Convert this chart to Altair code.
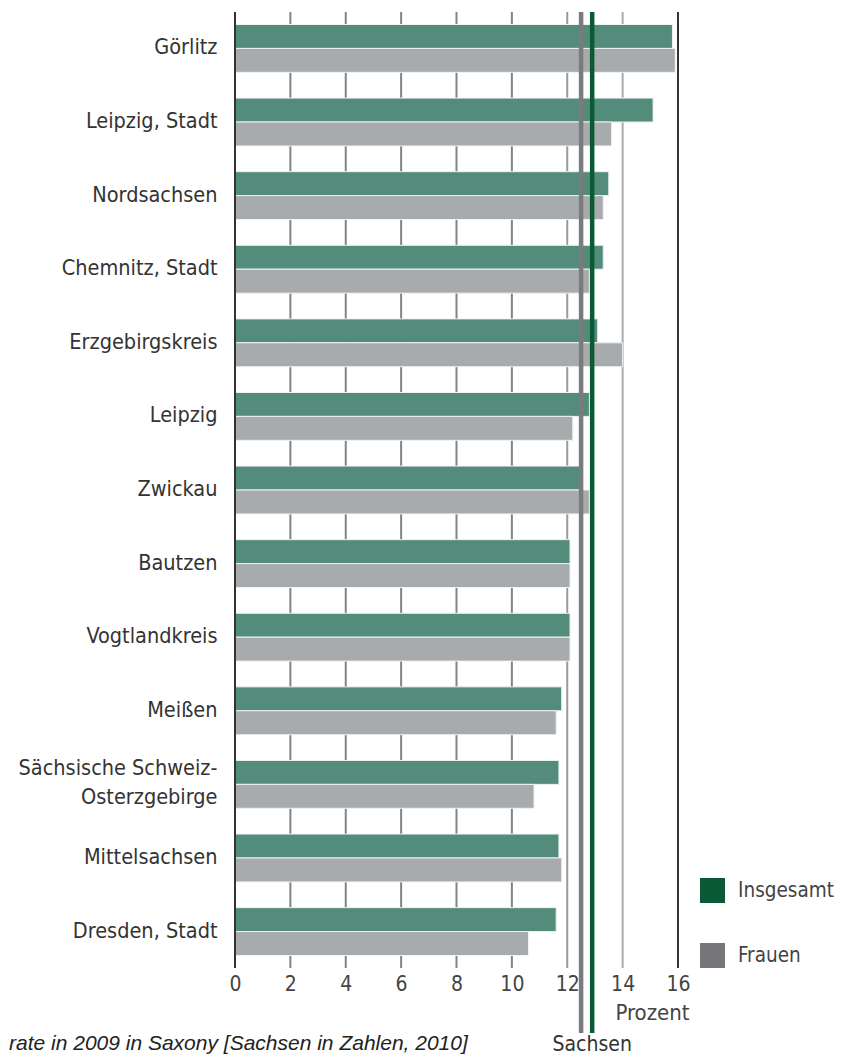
import altair as alt
import pandas as pd

# ---------------- data ----------------
regions = [
    "Görlitz", "Leipzig, Stadt", "Nordsachsen", "Chemnitz, Stadt",
    "Erzgebirgskreis", "Leipzig", "Zwickau", "Bautzen", "Vogtlandkreis",
    "Meißen", "Sächsische Schweiz-|Osterzgebirge", "Mittelsachsen",
    "Dresden, Stadt",
]
insgesamt = [15.8, 15.1, 13.5, 13.3, 13.1, 12.8, 12.5, 12.1, 12.1, 11.8, 11.7, 11.7, 11.6]
frauen = [15.9, 13.6, 13.3, 12.8, 14.0, 12.2, 12.8, 12.1, 12.1, 11.6, 10.8, 11.8, 10.6]
series_names = ["Insgesamt", "Frauen"]
sachsen_values = [12.9, 12.5]
x_ticks = [0, 2, 4, 6, 8, 10, 12, 14, 16]
grid_ticks = [2, 4, 6, 8, 10, 12, 14]
frame_ticks = [0, 16]
sachsen_label = "Sachsen"
axis_title = "Prozent"
caption = "rate in 2009 in Saxony [Sachsen in Zahlen, 2010]"

# ---------------- tables ----------------
bars_df = pd.DataFrame(
    [{"region": r, "series": series_names[0], "value": v} for r, v in zip(regions, insgesamt)]
    + [{"region": r, "series": series_names[1], "value": v} for r, v in zip(regions, frauen)]
)
sachsen_df = pd.DataFrame({"series": series_names, "value": sachsen_values})
grid_df = pd.DataFrame({"value": grid_ticks})
frame_df = pd.DataFrame({"value": frame_ticks})
caption_df = pd.DataFrame({"t": [caption]})
legend_df = pd.DataFrame({"series": series_names})

FONT = "'Liberation Sans Narrow', 'DejaVu Sans Condensed', 'Liberation Sans', sans-serif"

xscale = alt.Scale(domain=[0, 16], nice=False, zero=True)
xaxis = alt.Axis(
    values=x_ticks, domain=False, ticks=False, grid=False, format="d",
    labelFont=FONT, labelFontSize=21, labelColor="#444444", labelPadding=5,
    labelFlush=False, labelOverlap=False,
    title=axis_title, titleFont=FONT, titleFontSize=22, titleFontWeight="normal",
    titleColor="#444444", titleX=417, titleY=51, titleAlign="center",
    titleBaseline="alphabetic",
)


def X(field):
    return alt.X(field, type="quantitative", scale=xscale, axis=xaxis)


grid = alt.Chart(grid_df).mark_rule(strokeWidth=2).encode(
    x=X("value"),
    color=alt.when("datum.value >= 14").then(alt.value("#ababab"))
    .when("datum.value >= 12").then(alt.value("#9a9a9a"))
    .otherwise(alt.value("#838383")),
)

bars = alt.Chart(bars_df).mark_bar(stroke="#eef2f1", strokeWidth=1).encode(
    y=alt.Y(
        "region:N", sort=regions, title=None,
        scale=alt.Scale(paddingInner=0.35, paddingOuter=0.17),
        axis=alt.Axis(
            domain=False, ticks=False, labelFont=FONT, labelFontSize=21.5,
            labelColor="#333333", labelPadding=18, labelLimit=400,
            labelExpr="split(datum.label, '|')", labelLineHeight=29,
            labelOffset={"condition": {"test": "indexof(datum.value, '|') >= 0", "value": -15},
                         "value": 0},
        ),
    ),
    yOffset=alt.YOffset("series:N", sort=series_names,
                        scale=alt.Scale(paddingInner=0, paddingOuter=0)),
    x=X("value"),
    color=alt.Color("series:N", legend=None,
                    scale=alt.Scale(domain=series_names, range=["#548c7c", "#a8abad"])),
)

rules = alt.Chart(sachsen_df).mark_rule(strokeWidth=4.5).encode(
    x=X("value"),
    y=alt.value(0),
    y2=alt.value(1021),
    color=alt.Color("series:N", legend=None,
                    scale=alt.Scale(domain=series_names, range=["#0b5a36", "#7b7b7e"])),
)

frame = alt.Chart(frame_df).mark_rule(color="#333333", strokeWidth=2).encode(x=X("value"))

sachsen_text = alt.Chart(sachsen_df).transform_filter(
    alt.datum.series == series_names[0]
).mark_text(text=sachsen_label, font=FONT, fontSize=21, color="#333333",
            baseline="alphabetic", align="center").encode(
    x=X("value"),
    y=alt.value(1039),
)

caption_layer = alt.Chart(caption_df).mark_text(
    font="Liberation Sans", fontStyle="italic", fontSize=21, align="left",
    baseline="alphabetic", color="#222222",
).encode(text="t:N", x=alt.value(-226), y=alt.value(1038))

legend_layer = alt.Chart(legend_df).mark_square(opacity=0).encode(
    x=alt.value(0),
    y=alt.value(0),
    color=alt.Color(
        "series:N",
        scale=alt.Scale(domain=series_names, range=["#0b5a36", "#77777b"]),
        legend=alt.Legend(
            title=None, orient="none", legendX=465, legendY=866, padding=0,
            symbolType="square", symbolSize=625, symbolStrokeWidth=0,
            symbolOpacity=1, labelFont=FONT, labelFontSize=20.5,
            labelColor="#444444", labelOffset=13, rowPadding=40,
        ),
    ),
)

chart = (
    alt.layer(grid, bars, rules, frame, sachsen_text, caption_layer, legend_layer)
    .resolve_scale(color="independent")
    .properties(
        width=443, height=956,
        padding={"left": 227, "top": 4, "right": 159, "bottom": 88},
        autosize=alt.AutoSizeParams(type="none"),
        background="white",
    )
    .configure_view(stroke=None)
)

chart.save("out.html", embed_options={"renderer": "svg", "actions": False})
